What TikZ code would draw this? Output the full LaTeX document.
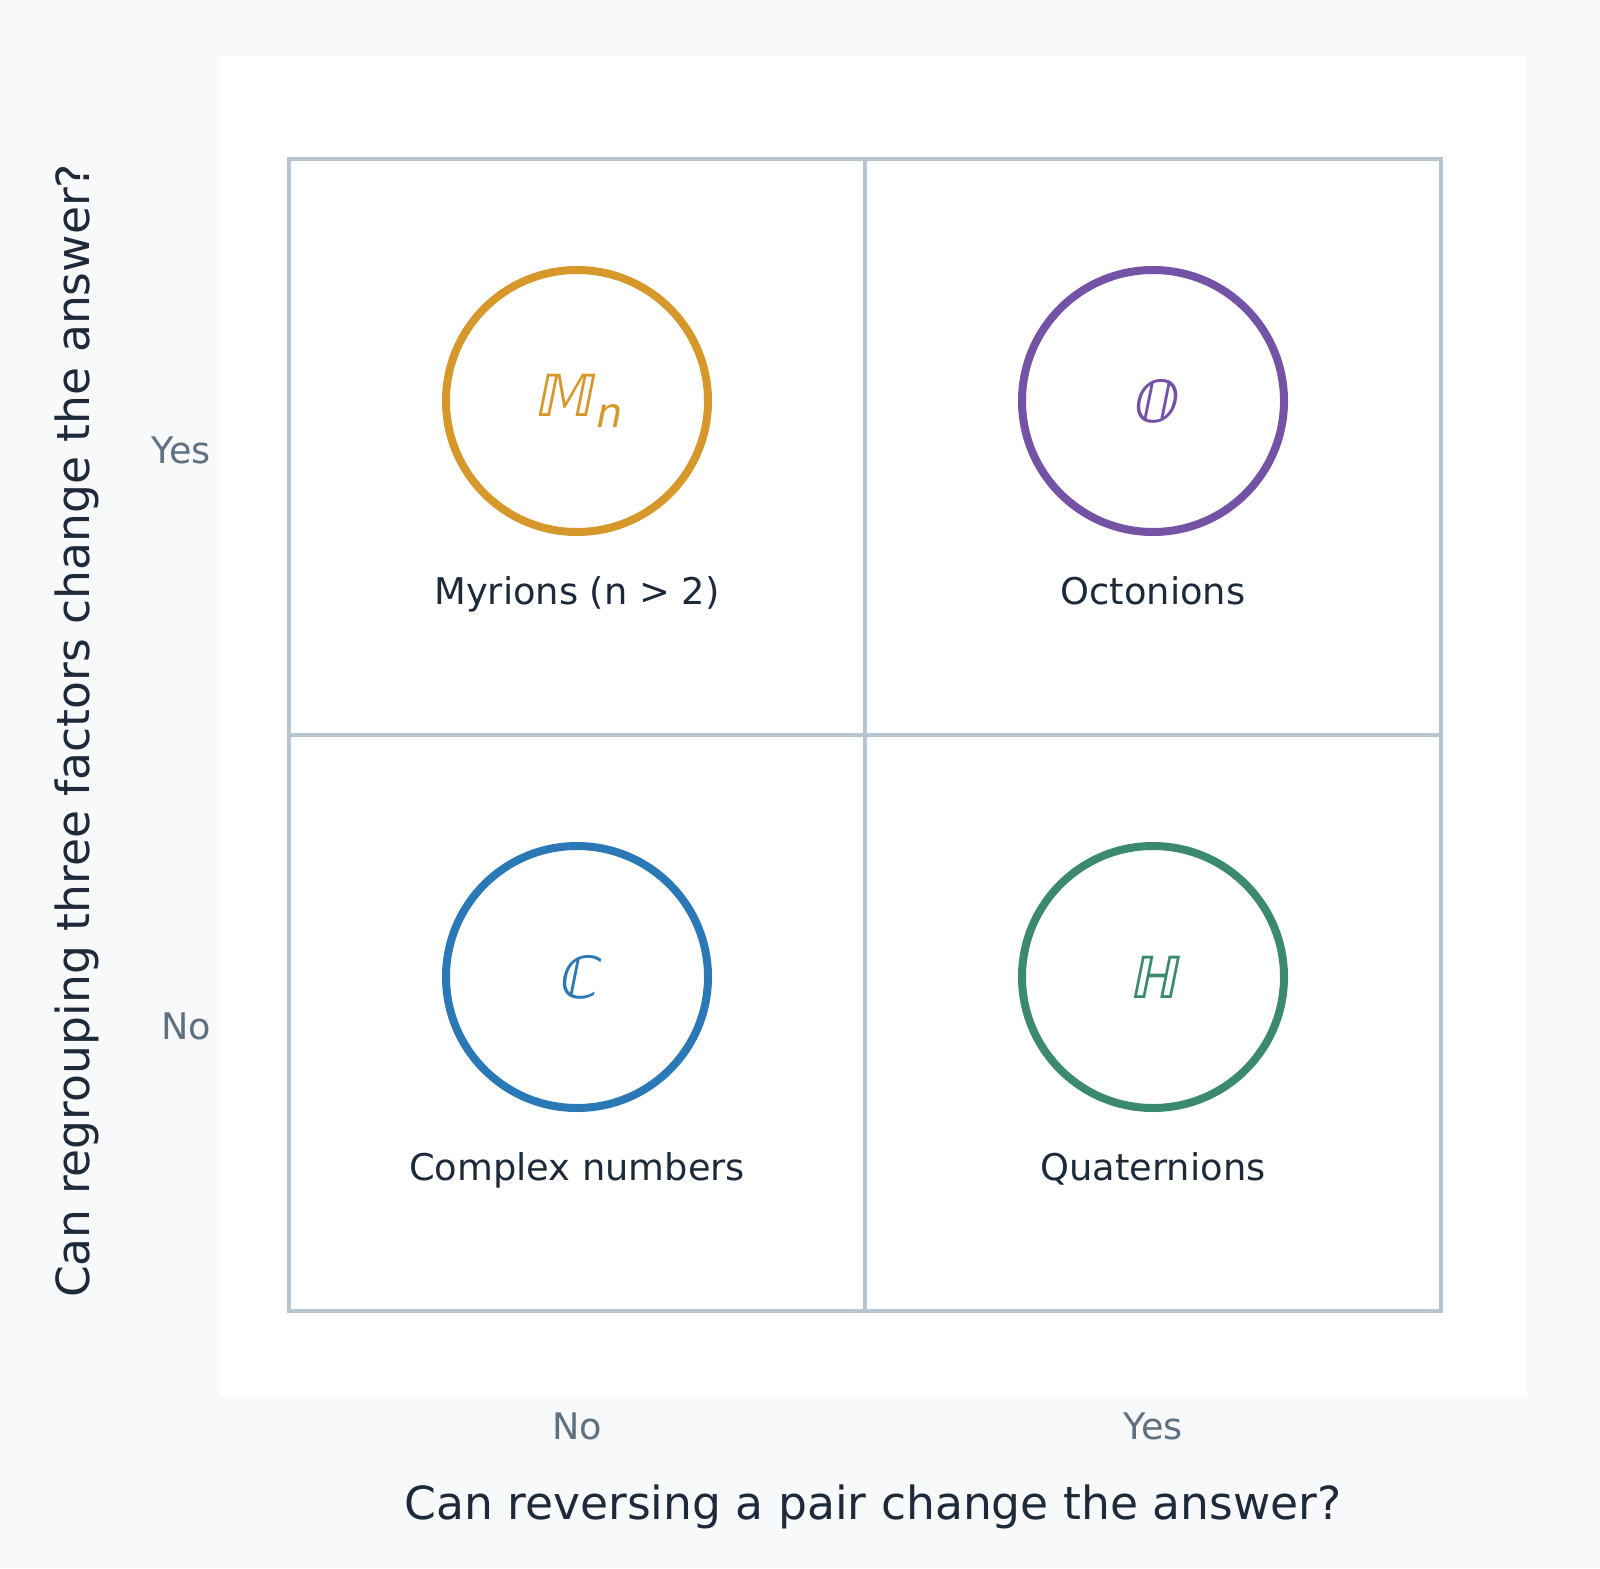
\documentclass[tikz,border=0pt]{standalone}
\usepackage{fontspec}
\setmainfont{DejaVu Sans}
\newfontfamily\dvobl[FakeSlant=0.2]{DejaVu Sans}
\definecolor{bgc}{HTML}{F8F9FB}
\definecolor{gridc}{HTML}{B8C5D0}
\definecolor{txt}{HTML}{1E2A3A}
\definecolor{tick}{HTML}{5F7080}
\definecolor{corange}{HTML}{D6982B}
\definecolor{cpurple}{HTML}{7452A6}
\definecolor{cblue}{HTML}{2B78B6}
\definecolor{cgreen}{HTML}{3B8A6D}
\tikzset{
  gridline/.style={draw=gridc, line width=2pt},
  ring/.style={circle, line width=4pt, minimum size=131pt, inner sep=0pt,
    font=\fontsize{29}{34}\selectfont\dvobl},
  lbl/.style={font=\fontsize{18.4}{22}\selectfont, text=txt, anchor=base},
  ticklbl/.style={font=\fontsize{18.3}{22}\selectfont, text=tick},
  axtitle/.style={font=\fontsize{22.8}{27}\selectfont, text=txt}
}
\begin{document}
\begin{tikzpicture}[x=0.5pt, y=-0.5pt]
\fill[bgc] (0,0) rectangle (1600,1568);
\useasboundingbox (0,0) rectangle (1600,1568);
\fill[white] (220,56) rectangle (1527,1397);
% grid
\coordinate (tl) at (289,159);
\coordinate (br) at (1441,1311);
\draw[gridline] (tl) rectangle (br);
\coordinate (mt) at (865,159);
\coordinate (mb) at (865,1311);
\coordinate (ml) at (289,735);
\coordinate (mr) at (1441,735);
\draw[gridline] (mt) -- (mb);
\draw[gridline] (ml) -- (mr);
% circles with symbols
\node[ring, draw=corange, text=corange] (myr) at (577,401) {𝕄\kern0.04em\raisebox{-0.19em}{\fontsize{20.5}{24}\selectfont n}};
\node[ring, draw=cpurple, text=cpurple] (oct) at (1153,401) {𝕆};
\node[ring, draw=cblue, text=cblue] (cpx) at (577,977) {ℂ};
\node[ring, draw=cgreen, text=cgreen] (qua) at (1153,977) {ℍ};
% labels
\node[lbl] (myrl) at (577,604) {Myrions (n > 2)};
\node[lbl] (octl) at (1153,604) {Octonions};
\node[lbl] (cpxl) at (577,1180) {Complex numbers};
\node[lbl] (qual) at (1153,1180) {Quaternions};
% ticks
\node[ticklbl] (xno) at (577,1426) {No};
\node[ticklbl] (xyes) at (1153,1426) {Yes};
\node[ticklbl, anchor=east] (yyes) at (218,450) {Yes};
\node[ticklbl, anchor=east] (yno) at (218,1026) {No};
% axis titles
\node[axtitle] (xt) at (873,1507) {Can reversing a pair change the answer?};
\node[axtitle, rotate=90] (yt) at (77,731) {Can regrouping three factors change the answer?};
\end{tikzpicture}
\end{document}
